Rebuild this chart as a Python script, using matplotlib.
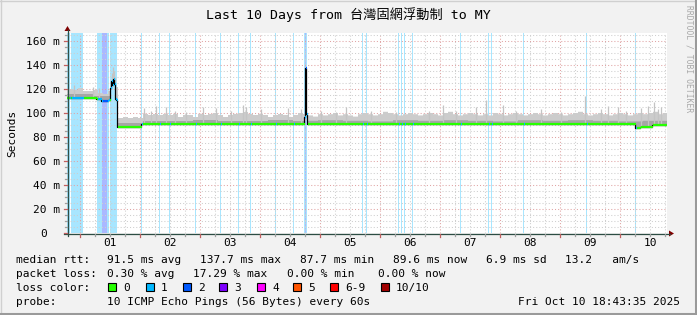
import numpy as np
import matplotlib
matplotlib.use("Agg")
import matplotlib.pyplot as plt
from matplotlib.patches import Rectangle, Polygon

# ---------------- data ----------------
title = "Last 10 Days from 台灣固網浮動制 to MY"
window_start_h = -5.27          # hours relative to Oct 01 00:00
window_end_h = 234.73
day_labels = ["01", "02", "03", "04", "05", "06", "07", "08", "09", "10"]
day_label_h = [12, 36, 60, 84, 108, 132, 156, 180, 204, 228]
y_ticks = [0, 20, 40, 60, 80, 100, 120, 140, 160]
y_labels = ["0", "20 m", "40 m", "60 m", "80 m", "100 m", "120 m", "140 m", "160 m"]

# median rtt (ms), step function: value holds from time until next time
median_h = [-5.27, 6.4, 8.4, 11.2, 12.0, 12.4, 12.8, 13.2, 13.6, 14.0, 14.4,
            14.8, 24.4, 89.6, 90.0, 90.4, 90.8, 222.0, 224.0, 228.8, 233.6]
median_ms = [112.5, 111.8, 110.2, 111.0, 121, 127, 123, 128, 124, 112, 111,
             88.3, 90.6, 97, 137.7, 99, 90.6, 87.7, 88.0, 90.3, 89.6]

# smoke (spread of pings): upper edge per 2-hour bin starting at -5.2 h
smoke_h0 = -5.2
smoke_top = [120, 119, 121, 118, 118, 119, 117, 116, 118, 122,
             96, 97, 96, 97, 96,
             99, 98, 99, 98, 99, 98, 99, 97, 98, 98, 97, 99, 98, 99, 100,
             98, 97, 98, 99, 100, 101, 99, 98, 99, 98, 97, 98, 99, 98, 97, 98, 100, 99, 98, 97,
             99, 98, 99, 100, 98, 99, 98, 97, 99, 100, 99, 98, 99, 101, 100, 99, 98, 99, 100, 99,
             98, 99, 100, 99, 98, 100, 101, 99, 98, 99, 100, 99, 98, 99, 98, 100, 99, 98, 99, 100,
             99, 98, 99, 100, 99, 98, 99, 100, 99, 98, 99, 100, 101, 99, 98, 99, 100, 99, 98, 99,
             100, 99, 98, 99, 100, 99, 100, 101, 99, 100]
# denser inner smoke per 10-hour bin
smoke_mid = [115.5, 114, 91.5, 93.5, 93.5, 94, 93.5, 93, 94, 93.5, 94, 93.5,
             93, 94, 93.5, 94, 93.5, 93, 94, 93.5, 94, 93.5, 93, 93.5]
# isolated tall smoke spikes (hour, ms)
spike_h = [-2.8, 4.8, 7.2, 12.0, 12.4, 12.8, 13.2, 13.6, 14.0, 14.4,
           25.2, 28.0, 30.0, 34.0, 37.6, 42.0, 48.8, 54.0, 60.0, 64.8, 66.0, 72.0,
           82.8, 88.0, 96.0, 102.0, 106.0, 116.0, 126.0,
           139.2, 144.8, 150.0, 158.0, 162.0, 168.8, 174.0, 184.0, 192.0,
           201.6, 208.0, 210.8, 214.8, 218.0, 224.0, 226.8, 229.2, 230.8, 232.0]
spike_ms = [123, 122, 121, 126, 133, 138, 135, 130, 121, 116,
            104, 102, 106, 105, 102, 101, 105, 104, 102, 107, 105, 103,
            104, 103, 102, 101, 105, 102, 101,
            102, 107, 102, 105, 111, 107, 102, 103, 101,
            114, 103, 106, 105, 102, 104, 106, 109, 103, 105]

# packet loss events: start hour, duration hours, loss class
loss_start_h = [-5.2, -4.4, -3.6, 6.8, 8.8, 10.8, 12.0, 24.4, 31.6, 35.6, 46.0,
                56.0, 63.2, 68.0, 78.0, 85.2, 89.6, 90.0, 90.4, 112.8, 114.4,
                127.2, 128.4, 129.6, 132.8, 152.0, 163.2, 164.4, 177.2, 202.4, 222.0]
loss_len_h = [0.4, 0.4, 4.8, 2.0, 2.0, 0.8, 2.8, 0.4, 0.4, 0.4, 0.4,
              0.4, 0.4, 0.4, 0.4, 0.4, 0.4, 0.4, 0.4, 0.4, 0.4,
              0.4, 0.4, 0.4, 0.4, 0.4, 0.4, 0.4, 0.4, 0.4, 0.4]
loss_class = [1, 1, 1, 1, 2, 1, 1, 1, 1, 1, 1,
              1, 1, 1, 1, 1, 1, 2, 1, 1, 1,
              1, 1, 1, 1, 1, 1, 1, 1, 1, 1]

legend_names = ["0", "1", "2", "3", "4", "5", "6-9", "10/10"]
legend_colors = ["#26ff00", "#00b8ff", "#0059ff", "#7e00ff", "#ff00ff", "#ff5500", "#ff0000", "#a10000"]
band_colors = {1: "#a8e6ff", 2: "#aab8ff"}

stats_rtt = ["91.5 ms avg", "137.7 ms max", "87.7 ms min", "89.6 ms now", "6.9 ms sd", "13.2   am/s"]
stats_loss = ["0.30 % avg", "17.29 % max", "0.00 % min", "0.00 % now"]
probe_text = "10 ICMP Echo Pings (56 Bytes) every 60s"
stamp_text = "Fri Oct 10 18:43:35 2025"

# ---------------- figure ----------------
W, H = 697, 315
MONO = "DejaVu Sans Mono"
fig = plt.figure(figsize=(W / 100, H / 100), dpi=100)
fig.patch.set_facecolor("#f2f2f2")

PL, PR, PT, PB = 67, 667, 33, 233
ymax = (PB - PT) * 20 / 24.0
ax = fig.add_axes([PL / W, 1 - PB / H, (PR - PL) / W, (PB - PT) / H])
ax.set_xlim(window_start_h, window_end_h)
ax.set_ylim(0, ymax)
ax.set_facecolor("white")
ax.axis("off")
ax.add_patch(Rectangle((0, 0), 1, 1, transform=ax.transAxes, facecolor="white", zorder=0))

# loss bands
for s, d, c in zip(loss_start_h, loss_len_h, loss_class):
    ax.axvspan(s, s + d, color=band_colors[c], lw=0, zorder=1)

# grid
dot = (0, (1, 2))
for h in np.arange(0, window_end_h, 6):
    if h % 24 == 0:
        ax.axvline(h, color="#e0a4a4", lw=0.75, ls=dot, zorder=2)
    else:
        ax.axvline(h, color="#cfcfcf", lw=0.75, ls=dot, zorder=2)
for v in np.arange(5, ymax, 5):
    if v % 20 == 0:
        ax.axhline(v, color="#e0a4a4", lw=0.75, ls=dot, zorder=2)
    else:
        ax.axhline(v, color="#cfcfcf", lw=0.75, ls=dot, zorder=2)

# helper lookups
mh = np.array(median_h)
mv = np.array(median_ms)
t = np.arange(window_start_h, window_end_h + 0.001, 0.4)
med_t = mv[np.clip(np.searchsorted(mh, t, side="right") - 1, 0, len(mv) - 1)]
top_t = np.array(smoke_top)[np.clip(((t - smoke_h0) // 2).astype(int), 0, len(smoke_top) - 1)]
mid_t = np.array(smoke_mid)[np.clip(((t - smoke_h0) // 10).astype(int), 0, len(smoke_mid) - 1)]

ax.fill_between(t, med_t, top_t, where=top_t > med_t, step="post", color="#cccccc", lw=0, zorder=3)
ax.fill_between(t, med_t, mid_t, where=mid_t > med_t, step="post", color="#a6a6a6", lw=0, zorder=3.1)
sm = mv[np.clip(np.searchsorted(mh, np.array(spike_h), side="right") - 1, 0, len(mv) - 1)]
ax.vlines(np.array(spike_h) + 0.2, sm, spike_ms, color="#c4c4c4", lw=0.9, zorder=3.2)

# median line
ax.step(median_h + [window_end_h], median_ms + [median_ms[-1]], where="post",
        color="black", lw=0.9, zorder=4)
loss_t = np.zeros_like(t, dtype=int)
for s, d, c in zip(loss_start_h, loss_len_h, loss_class):
    loss_t[(t >= s - 1e-6) & (t < s + d - 1e-6)] = c
for i in range(len(t) - 1):
    ax.hlines(med_t[i], t[i], t[i + 1], color=legend_colors[loss_t[i]], lw=1.6, zorder=5)

# ---------------- overlay in pixel coords ----------------
ov = fig.add_axes([0, 0, 1, 1])
ov.set_xlim(0, W)
ov.set_ylim(H, 0)
ov.axis("off")
ov.patch.set_alpha(0)

def hx(h):
    return PL + (h - window_start_h) / (window_end_h - window_start_h) * (PR - PL)

def vy(v):
    return PB - v / ymax * (PB - PT)

# frame
ov.plot([0, W], [0.5, 0.5], color="#d0d0d0", lw=1)
ov.plot([0.5, 0.5], [0, H], color="#d0d0d0", lw=1)
ov.plot([W - 1.5, W - 1.5], [0, H], color="#9a9a9a", lw=2.2)
ov.plot([0, W], [H - 1.5, H - 1.5], color="#9a9a9a", lw=2.2)

axis_c = "#2c4d43"
ov.plot([PL - 3, PR + 3], [PB + 0.5, PB + 0.5], color=axis_c, lw=0.9)
ov.plot([PL + 0.5, PL + 0.5], [PB + 3, PT - 3], color=axis_c, lw=0.9)
ov.add_patch(Polygon([[PL - 2.5, PT - 2], [PL + 3.5, PT - 2], [PL + 0.5, PT - 7]], closed=True,
                     color="#7f0000", lw=0))
ov.add_patch(Polygon([[PR + 2, PB - 2.5], [PR + 2, PB + 3.5], [PR + 7, PB + 0.5]], closed=True,
                     color="#7f0000", lw=0))

# ticks
for h in np.arange(0, window_end_h, 6):
    x = hx(h)
    if h % 24 == 0:
        ov.plot([x, x], [PB + 1, PB + 4], color="#c06060", lw=0.9)
    else:
        ov.plot([x, x], [PB + 1, PB + 3], color="#a0a0a0", lw=0.9)
for v in np.arange(0, ymax, 5):
    y = vy(v)
    if v % 20 == 0:
        ov.plot([PL - 3, PL], [y, y], color="#c06060", lw=0.9)
    else:
        ov.plot([PL - 2, PL], [y, y], color="#a0a0a0", lw=0.9)

fs = 8
for h, lab in zip(day_label_h, day_labels):
    ov.text(hx(h), 246, lab, ha="center", va="baseline", fontsize=fs, family=MONO)
for v, lab in zip(y_ticks, y_labels):
    xr = 60 if lab != "0" else 47
    ov.text(xr, vy(v) + 4, lab, ha="right", va="baseline", fontsize=fs, family=MONO)

ov.text(348, 19, title, ha="center", va="baseline", fontsize=9.5,
        family=[MONO, "Noto Sans CJK TC"])
ov.text(12, 133, "Seconds", rotation=90, ha="center", va="center", fontsize=fs, family=MONO)
ov.text(689, 5, "RRDTOOL / TOBI OETIKER", rotation=270, ha="center", va="top",
        fontsize=5.8, family=MONO, color="#a8a8a8")

# legend
ov.text(16, 263.3, "median rtt:", ha="left", va="baseline", fontsize=fs, family=MONO)
for x, s in zip([107, 200, 300, 393, 486, 565], stats_rtt):
    ov.text(x, 263.3, s, ha="left", va="baseline", fontsize=fs, family=MONO)
ov.text(16, 277.3, "packet loss:", ha="left", va="baseline", fontsize=fs, family=MONO)
for x, s in zip([107, 193, 287, 378], stats_loss):
    ov.text(x, 277.3, s, ha="left", va="baseline", fontsize=fs, family=MONO)
ov.text(16, 290.7, "loss color:", ha="left", va="baseline", fontsize=fs, family=MONO)
box_x = [108, 146, 183, 219, 257, 293, 330, 381]
for bx, name, col in zip(box_x, legend_names, legend_colors):
    ov.add_patch(Rectangle((bx, 283), 8, 8, facecolor=col, edgecolor="black", lw=0.8))
    ov.text(bx + 15, 290.7, name, ha="left", va="baseline", fontsize=fs, family=MONO)
ov.text(16, 305, "probe:", ha="left", va="baseline", fontsize=fs, family=MONO)
ov.text(107, 305, probe_text, ha="left", va="baseline", fontsize=fs, family=MONO)
ov.text(680, 305, stamp_text, ha="right", va="baseline", fontsize=fs, family=MONO)

fig.savefig("out.png", dpi=100, facecolor=fig.get_facecolor())
